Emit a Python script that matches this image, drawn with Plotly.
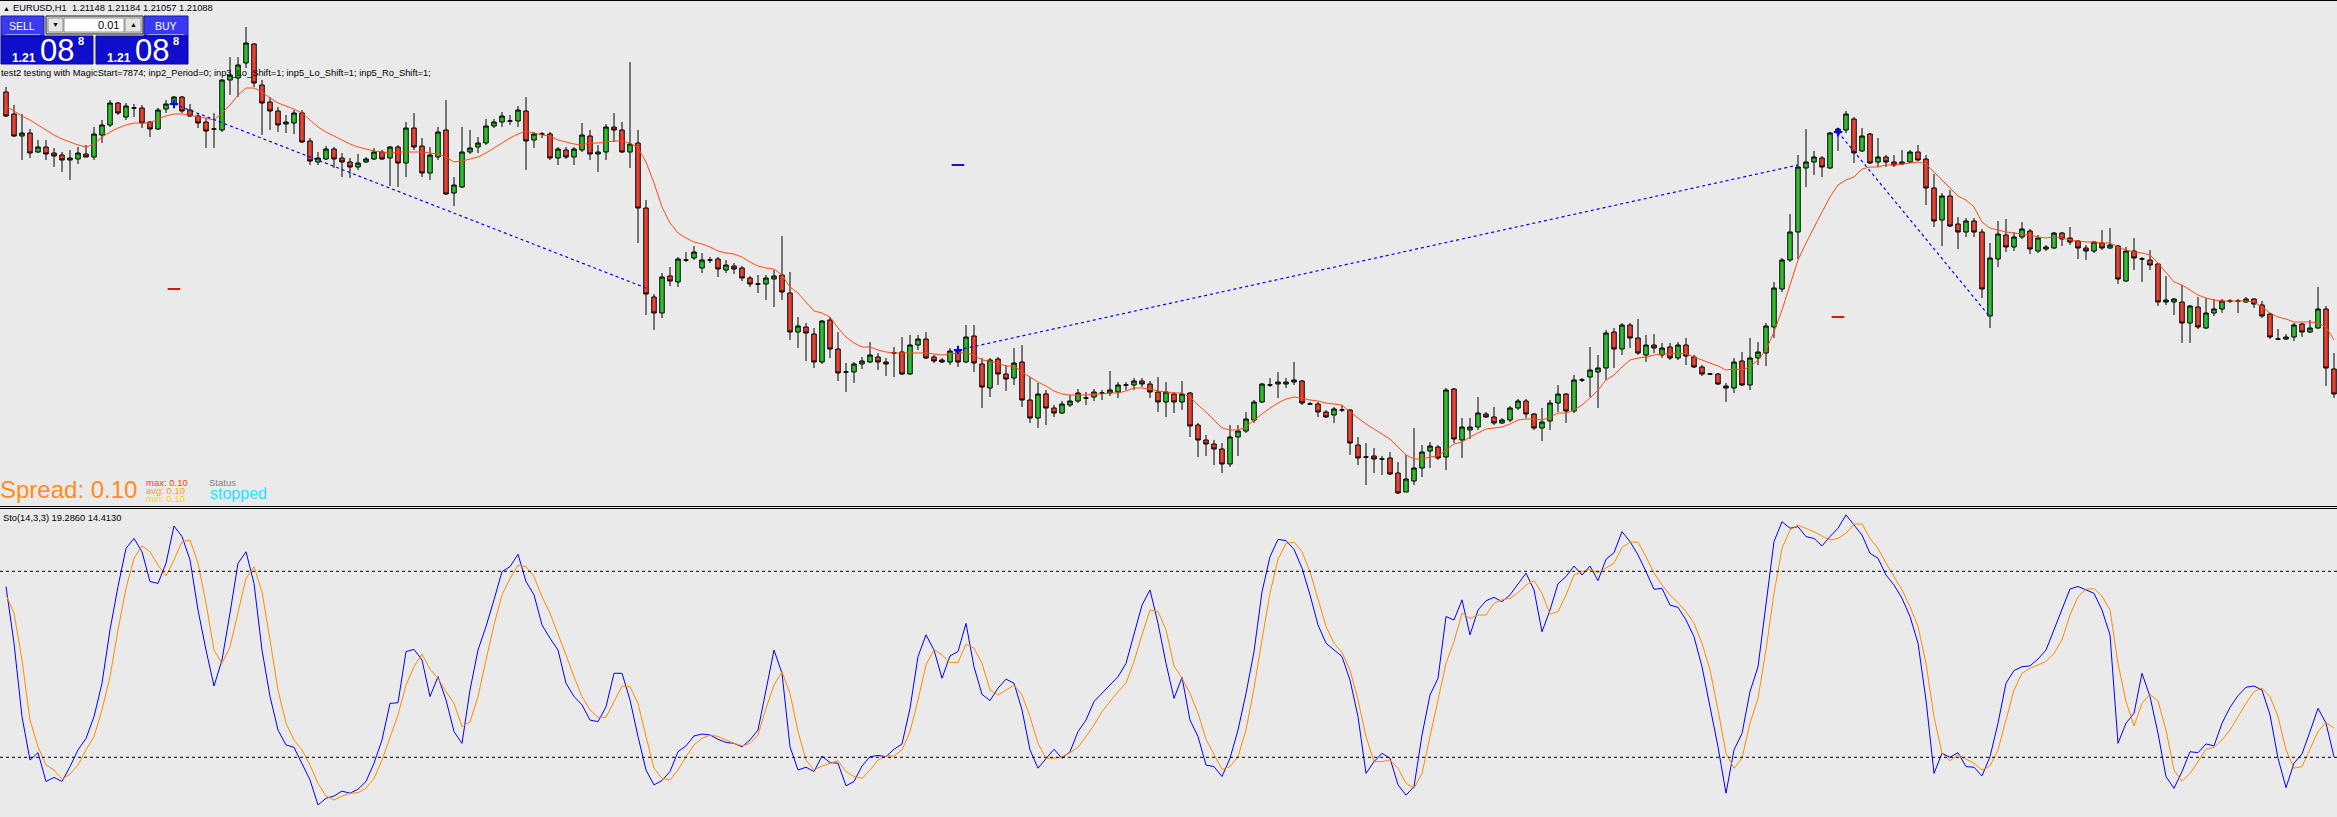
import plotly.graph_objects as go

W, H = 2337, 817
BG = '#EAEAEA'
FONT = 'Liberation Sans, Arial, sans-serif'

# ---------------- data (EURUSD H1) ----------------
open_ = [1.21908,1.21886,1.21864,1.21867,1.21848,1.21853,1.21847,1.21845,1.21840,1.21841,
1.21846,1.21843,1.21865,1.21875,1.21897,1.21883,1.21892,1.21892,1.21878,1.21871,
1.21891,1.21896,1.21903,1.21890,1.21884,1.21878,1.21871,1.21870,1.21920,1.21922,
1.21937,1.21956,1.21915,1.21898,1.21889,1.21876,1.21877,1.21887,1.21859,1.21838,
1.21841,1.21851,1.21842,1.21838,1.21833,1.21838,1.21841,1.21848,1.21842,1.21853,
1.21837,1.21872,1.21854,1.21827,1.21843,1.21870,1.21807,1.21813,1.21848,1.21853,
1.21857,1.21874,1.21878,1.21879,1.21879,1.21889,1.21860,1.21866,1.21866,1.21842,
1.21850,1.21843,1.21850,1.21864,1.21846,1.21848,1.21873,1.21870,1.21848,1.21857,
1.21792,1.21703,1.21687,1.21724,1.21718,1.21740,1.21742,1.21732,1.21740,1.21741,
1.21730,1.21734,1.21732,1.21722,1.21716,1.21716,1.21721,1.21725,1.21707,1.21668,
1.21673,1.21666,1.21638,1.21680,1.21651,1.21628,1.21628,1.21636,1.21638,1.21643,
1.21638,1.21647,1.21648,1.21626,1.21655,1.21661,1.21643,1.21640,1.21638,1.21649,
1.21638,1.21664,1.21636,1.21612,1.21641,1.21626,1.21622,1.21638,1.21600,1.21582,
1.21606,1.21592,1.21587,1.21595,1.21599,1.21602,1.21603,1.21607,1.21607,1.21608,
1.21615,1.21615,1.21619,1.21616,1.21608,1.21598,1.21606,1.21598,1.21607,1.21575,
1.21560,1.21556,1.21551,1.21536,1.21563,1.21569,1.21580,1.21598,1.21615,1.21618,
1.21616,1.21618,1.21619,1.21596,1.21596,1.21588,1.21585,1.21590,1.21590,1.21555,
1.21543,1.21544,1.21541,1.21542,1.21527,1.21508,1.21519,1.21532,1.21549,1.21553,
1.21543,1.21611,1.21560,1.21570,1.21573,1.21586,1.21583,1.21577,1.21580,1.21592,
1.21599,1.21586,1.21572,1.21579,1.21597,1.21606,1.21589,1.21620,1.21623,1.21628,
1.21632,1.21668,1.21651,1.21675,1.21662,1.21645,1.21655,1.21645,1.21653,1.21642,
1.21655,1.21643,1.21633,1.21626,1.21626,1.21614,1.21612,1.21639,1.21615,1.21642,
1.21647,1.21673,1.21711,1.21740,1.21768,1.21832,1.21838,1.21842,1.21832,1.21867,
1.21870,1.21881,1.21849,1.21866,1.21838,1.21843,1.21838,1.21836,1.21838,1.21848,
1.21841,1.21812,1.21780,1.21804,1.21776,1.21768,1.21779,1.21768,1.21684,1.21741,
1.21765,1.21753,1.21763,1.21769,1.21749,1.21751,1.21752,1.21767,1.21762,1.21759,
1.21752,1.21749,1.21757,1.21752,1.21754,1.21719,1.21749,1.21741,1.21740,1.21736,
1.21698,1.21698,1.21698,1.21677,1.21693,1.21672,1.21687,1.21691,1.21699,1.21699,
1.21698,1.21701,1.21695,1.21686,1.21661,1.21661,1.21663,1.21676,1.21668,1.21672,
1.21691,1.21631]

high_ = [1.21913,1.21895,1.21886,1.21871,1.21860,1.21860,1.21852,1.21848,1.21850,1.21853,
1.21855,1.21873,1.21880,1.21900,1.21898,1.21897,1.21896,1.21895,1.21879,1.21892,
1.21900,1.21904,1.21904,1.21896,1.21887,1.21882,1.21887,1.21921,1.21943,1.21943,
1.21973,1.21957,1.21920,1.21903,1.21893,1.21885,1.21890,1.21890,1.21862,1.21848,
1.21854,1.21853,1.21847,1.21842,1.21846,1.21843,1.21852,1.21850,1.21854,1.21855,
1.21878,1.21887,1.21862,1.21853,1.21873,1.21900,1.21823,1.21873,1.21870,1.21863,
1.21881,1.21881,1.21888,1.21885,1.21894,1.21903,1.21868,1.21868,1.21868,1.21853,
1.21853,1.21853,1.21877,1.21870,1.21855,1.21876,1.21887,1.21878,1.21938,1.21870,
1.21800,1.21706,1.21727,1.21733,1.21743,1.21748,1.21754,1.21747,1.21743,1.21743,
1.21740,1.21737,1.21734,1.21724,1.21725,1.21725,1.21730,1.21764,1.21728,1.21683,
1.21677,1.21672,1.21680,1.21683,1.21668,1.21637,1.21638,1.21643,1.21658,1.21647,
1.21642,1.21653,1.21663,1.21665,1.21665,1.21668,1.21645,1.21642,1.21652,1.21653,
1.21675,1.21675,1.21642,1.21642,1.21643,1.21635,1.21652,1.21655,1.21623,1.21617,
1.21610,1.21595,1.21599,1.21605,1.21611,1.21608,1.21611,1.21610,1.21629,1.21618,
1.21618,1.21622,1.21622,1.21619,1.21623,1.21618,1.21608,1.21619,1.21608,1.21577,
1.21565,1.21560,1.21557,1.21575,1.21575,1.21588,1.21600,1.21617,1.21622,1.21628,
1.21622,1.21638,1.21620,1.21598,1.21598,1.21590,1.21593,1.21595,1.21591,1.21563,
1.21557,1.21552,1.21544,1.21548,1.21538,1.21545,1.21572,1.21555,1.21558,1.21555,
1.21612,1.21612,1.21582,1.21582,1.21603,1.21588,1.21593,1.21582,1.21594,1.21601,
1.21601,1.21587,1.21592,1.21600,1.21615,1.21607,1.21625,1.21622,1.21653,1.21645,
1.21670,1.21672,1.21677,1.21677,1.21681,1.21665,1.21666,1.21657,1.21657,1.21658,
1.21662,1.21645,1.21635,1.21627,1.21627,1.21617,1.21642,1.21648,1.21662,1.21658,
1.21677,1.21718,1.21742,1.21786,1.21845,1.21871,1.21849,1.21844,1.21868,1.21872,
1.21889,1.21883,1.21872,1.21867,1.21862,1.21845,1.21845,1.21850,1.21850,1.21855,
1.21845,1.21826,1.21807,1.21810,1.21783,1.21782,1.21782,1.21771,1.21757,1.21779,
1.21781,1.21768,1.21778,1.21771,1.21765,1.21755,1.21768,1.21768,1.21773,1.21760,
1.21755,1.21759,1.21770,1.21772,1.21755,1.21753,1.21762,1.21743,1.21750,1.21737,
1.21724,1.21702,1.21715,1.21695,1.21703,1.21702,1.21701,1.21701,1.21701,1.21701,
1.21703,1.21702,1.21699,1.21687,1.21671,1.21666,1.21677,1.21677,1.21680,1.21713,
1.21694,1.21647]

low_ = [1.21883,1.21863,1.21840,1.21842,1.21847,1.21840,1.21833,1.21828,1.21820,1.21836,
1.21843,1.21840,1.21857,1.21873,1.21885,1.21880,1.21883,1.21872,1.21863,1.21870,
1.21887,1.21893,1.21887,1.21883,1.21872,1.21852,1.21852,1.21868,1.21905,1.21903,
1.21932,1.21913,1.21865,1.21870,1.21868,1.21867,1.21866,1.21857,1.21835,1.21835,
1.21840,1.21832,1.21823,1.21822,1.21830,1.21837,1.21840,1.21840,1.21814,1.21813,
1.21823,1.21850,1.21823,1.21820,1.21840,1.21805,1.21794,1.21812,1.21846,1.21847,
1.21855,1.21872,1.21873,1.21875,1.21873,1.21830,1.21852,1.21862,1.21840,1.21835,
1.21841,1.21835,1.21848,1.21840,1.21828,1.21840,1.21858,1.21847,1.21832,1.21757,
1.21685,1.21670,1.21682,1.21714,1.21713,1.21738,1.21740,1.21727,1.21737,1.21723,
1.21727,1.21726,1.21719,1.21713,1.21707,1.21700,1.21693,1.21700,1.21660,1.21652,
1.21639,1.21632,1.21636,1.21642,1.21619,1.21608,1.21617,1.21631,1.21637,1.21630,
1.21624,1.21623,1.21625,1.21625,1.21650,1.21641,1.21637,1.21637,1.21635,1.21633,
1.21637,1.21628,1.21592,1.21603,1.21615,1.21609,1.21615,1.21593,1.21577,1.21572,
1.21575,1.21583,1.21586,1.21593,1.21597,1.21595,1.21599,1.21600,1.21604,1.21602,
1.21610,1.21610,1.21613,1.21602,1.21588,1.21583,1.21587,1.21590,1.21563,1.21543,
1.21544,1.21535,1.21527,1.21533,1.21544,1.21567,1.21577,1.21597,1.21613,1.21602,
1.21612,1.21615,1.21595,1.21595,1.21583,1.21582,1.21577,1.21588,1.21545,1.21535,
1.21515,1.21527,1.21525,1.21525,1.21506,1.21508,1.21515,1.21523,1.21532,1.21540,
1.21530,1.21557,1.21542,1.21561,1.21570,1.21582,1.21575,1.21576,1.21578,1.21590,
1.21582,1.21570,1.21559,1.21570,1.21588,1.21577,1.21587,1.21618,1.21603,1.21592,
1.21620,1.21632,1.21645,1.21652,1.21645,1.21638,1.21647,1.21642,1.21640,1.21640,
1.21635,1.21632,1.21624,1.21625,1.21615,1.21598,1.21607,1.21614,1.21610,1.21635,
1.21634,1.21662,1.21708,1.21738,1.21741,1.21813,1.21825,1.21823,1.21831,1.21849,
1.21867,1.21837,1.21848,1.21836,1.21833,1.21833,1.21833,1.21835,1.21837,1.21839,
1.21795,1.21773,1.21754,1.21773,1.21751,1.21763,1.21763,1.21702,1.21672,1.21733,
1.21748,1.21749,1.21761,1.21746,1.21747,1.21749,1.21751,1.21754,1.21755,1.21741,
1.21740,1.21747,1.21750,1.21751,1.21716,1.21718,1.21730,1.21718,1.21730,1.21694,
1.21695,1.21685,1.21657,1.21657,1.21671,1.21671,1.21684,1.21687,1.21697,1.21687,
1.21697,1.21692,1.21682,1.21661,1.21660,1.21660,1.21659,1.21663,1.21667,1.21671,
1.21614,1.21602]

close_ = [1.21884,1.21864,1.21867,1.21847,1.21853,1.21846,1.21844,1.21840,1.21842,1.21847,
1.21843,1.21866,1.21875,1.21897,1.21887,1.21894,1.21892,1.21877,1.21871,1.21890,
1.21896,1.21903,1.21889,1.21884,1.21877,1.21869,1.21871,1.21920,1.21925,1.21935,
1.21957,1.21917,1.21897,1.21889,1.21875,1.21878,1.21887,1.21858,1.21839,1.21842,
1.21851,1.21841,1.21838,1.21833,1.21837,1.21841,1.21848,1.21841,1.21853,1.21837,
1.21872,1.21853,1.21827,1.21845,1.21868,1.21806,1.21815,1.21848,1.21852,1.21857,
1.21874,1.21878,1.21884,1.21879,1.21890,1.21859,1.21866,1.21866,1.21842,1.21851,
1.21843,1.21851,1.21865,1.21846,1.21848,1.21873,1.21870,1.21848,1.21856,1.21792,
1.21706,1.21687,1.21723,1.21719,1.21741,1.21740,1.21748,1.21740,1.21740,1.21731,
1.21735,1.21731,1.21722,1.21716,1.21716,1.21722,1.21724,1.21708,1.21668,1.21674,
1.21667,1.21638,1.21679,1.21651,1.21627,1.21628,1.21636,1.21639,1.21645,1.21638,
1.21636,1.21647,1.21626,1.21655,1.21661,1.21642,1.21639,1.21638,1.21649,1.21638,
1.21663,1.21637,1.21613,1.21640,1.21626,1.21621,1.21637,1.21600,1.21582,1.21606,
1.21592,1.21587,1.21596,1.21599,1.21607,1.21602,1.21608,1.21607,1.21610,1.21615,
1.21615,1.21619,1.21616,1.21608,1.21598,1.21608,1.21598,1.21606,1.21574,1.21560,
1.21556,1.21551,1.21536,1.21563,1.21569,1.21581,1.21598,1.21616,1.21615,1.21616,
1.21618,1.21620,1.21597,1.21596,1.21588,1.21583,1.21591,1.21590,1.21557,1.21542,
1.21543,1.21541,1.21541,1.21526,1.21507,1.21521,1.21532,1.21548,1.21554,1.21542,
1.21610,1.21561,1.21573,1.21573,1.21587,1.21583,1.21577,1.21580,1.21592,1.21599,
1.21586,1.21572,1.21578,1.21597,1.21606,1.21589,1.21620,1.21620,1.21630,1.21632,
1.21667,1.21651,1.21675,1.21662,1.21647,1.21655,1.21652,1.21652,1.21642,1.21655,
1.21644,1.21633,1.21626,1.21626,1.21616,1.21612,1.21638,1.21615,1.21642,1.21648,
1.21674,1.21712,1.21740,1.21768,1.21833,1.21838,1.21843,1.21833,1.21867,1.21871,
1.21886,1.21847,1.21864,1.21837,1.21843,1.21838,1.21835,1.21838,1.21848,1.21840,
1.21812,1.21779,1.21804,1.21774,1.21768,1.21779,1.21768,1.21711,1.21742,1.21766,
1.21753,1.21763,1.21771,1.21751,1.21762,1.21753,1.21767,1.21761,1.21758,1.21752,
1.21749,1.21758,1.21752,1.21755,1.21721,1.21749,1.21742,1.21741,1.21735,1.21698,
1.21700,1.21701,1.21677,1.21694,1.21673,1.21687,1.21691,1.21699,1.21699,1.21699,
1.21701,1.21696,1.21684,1.21663,1.21661,1.21663,1.21675,1.21668,1.21672,1.21691,
1.21632,1.21606]

ma_ = [1.21894,1.21889,1.21884,1.21880,1.21875,1.21870,1.21865,1.21861,1.21858,1.21855,
1.21853,1.21856,1.21863,1.21868,1.21872,1.21875,1.21877,1.21877,1.21877,1.21881,
1.21884,1.21886,1.21886,1.21885,1.21883,1.21882,1.21880,1.21887,1.21895,1.21905,
1.21912,1.21912,1.21908,1.21902,1.21897,1.21894,1.21891,1.21887,1.21880,1.21873,
1.21868,1.21864,1.21860,1.21856,1.21853,1.21851,1.21849,1.21848,1.21847,1.21848,
1.21848,1.21848,1.21848,1.21847,1.21846,1.21843,1.21838,1.21839,1.21841,1.21843,
1.21847,1.21852,1.21857,1.21862,1.21866,1.21869,1.21867,1.21865,1.21864,1.21860,
1.21858,1.21856,1.21855,1.21857,1.21857,1.21858,1.21859,1.21859,1.21857,1.21852,
1.21838,1.21817,1.21793,1.21777,1.21767,1.21762,1.21758,1.21756,1.21753,1.21749,
1.21747,1.21746,1.21743,1.21738,1.21734,1.21732,1.21731,1.21725,1.21713,1.21707,
1.21698,1.21689,1.21687,1.21683,1.21672,1.21663,1.21657,1.21653,1.21653,1.21650,
1.21648,1.21647,1.21647,1.21647,1.21647,1.21647,1.21646,1.21645,1.21646,1.21647,
1.21647,1.21645,1.21640,1.21639,1.21637,1.21634,1.21634,1.21628,1.21623,1.21618,
1.21614,1.21609,1.21606,1.21605,1.21605,1.21605,1.21606,1.21606,1.21607,1.21607,
1.21609,1.21612,1.21612,1.21611,1.21609,1.21608,1.21607,1.21607,1.21603,1.21595,
1.21588,1.21580,1.21572,1.21570,1.21570,1.21573,1.21580,1.21586,1.21592,1.21597,
1.21601,1.21603,1.21602,1.21600,1.21599,1.21597,1.21596,1.21595,1.21588,1.21582,
1.21576,1.21571,1.21566,1.21561,1.21553,1.21545,1.21541,1.21541,1.21543,1.21544,
1.21550,1.21556,1.21558,1.21563,1.21567,1.21571,1.21572,1.21573,1.21576,1.21580,
1.21581,1.21581,1.21580,1.21583,1.21587,1.21587,1.21590,1.21595,1.21602,1.21610,
1.21620,1.21625,1.21633,1.21640,1.21642,1.21643,1.21645,1.21646,1.21646,1.21647,
1.21646,1.21643,1.21640,1.21637,1.21634,1.21630,1.21631,1.21630,1.21633,1.21640,
1.21650,1.21668,1.21690,1.21715,1.21740,1.21757,1.21773,1.21788,1.21803,1.21815,
1.21820,1.21823,1.21831,1.21833,1.21833,1.21835,1.21835,1.21836,1.21837,1.21838,
1.21836,1.21828,1.21820,1.21812,1.21804,1.21800,1.21793,1.21778,1.21772,1.21770,
1.21768,1.21767,1.21766,1.21765,1.21763,1.21762,1.21763,1.21762,1.21760,1.21759,
1.21758,1.21758,1.21757,1.21757,1.21753,1.21750,1.21748,1.21747,1.21745,1.21737,
1.21727,1.21718,1.21715,1.21710,1.21705,1.21702,1.21700,1.21699,1.21699,1.21699,
1.21699,1.21698,1.21693,1.21687,1.21683,1.21681,1.21678,1.21678,1.21678,1.21677,
1.21673,1.21660]

sto_main = [75.1,56.8,33.1,19.1,21.5,12.2,13.5,12.2,17.0,22.4,
26.1,33.1,43.9,61.1,75.1,87.4,90.6,86.3,76.7,76.1,
82.6,94.6,91.2,83.7,67.5,54.6,43.0,51.4,66.5,82.6,
86.3,76.1,54.6,39.6,28.8,24.0,23.2,18.1,12.7,4.6,
6.8,7.5,9.1,8.4,9.7,12.2,18.1,25.6,37.4,37.6,
54.1,54.8,51.4,39.6,46.0,38.5,28.3,24.5,41.7,54.6,
62.2,70.8,79.9,81.5,85.5,76.7,72.4,62.7,58.4,54.6,
43.9,39.6,36.9,32.0,31.5,36.3,47.1,47.1,38.5,26.7,
15.9,11.1,12.5,15.4,21.8,23.7,26.9,27.5,27.2,25.8,
24.8,24.5,23.4,25.6,28.8,41.7,54.6,
47.1,23.4,15.9,16.8,15.4,20.4,18.3,18.1,10.8,12.2,
17.2,20.2,20.6,20.2,22.6,24.3,35.8,52.5,59.5,54.6,
45.5,52.7,54.1,63.2,49.2,40.3,38.3,42.3,45.2,43.9,
35.3,22.4,16.5,19.7,22.6,19.7,21.8,28.3,32.0,38.0,
40.6,43.3,46.0,50.3,59.5,69.1,74.0,63.2,50.3,39.0,
45.8,32.0,26.7,17.5,17.0,13.8,19.7,28.8,40.6,54.1,
73.4,84.7,90.3,89.9,87.1,81.0,72.4,62.7,56.8,54.6,
52.5,44.9,33.1,14.8,18.6,21.3,19.7,11.1,7.8,10.5,
27.2,40.1,45.5,65.4,64.3,70.8,59.5,67.5,70.5,71.6,
70.2,72.4,76.1,79.4,74.0,60.5,67.5,
76.0,78.3,81.7,78.8,81.7,77.0,83.9,86.0,92.8,89.6,
85.3,79.9,74.2,74.5,69.1,68.4,64.3,58.9,49.2,36.3,
23.4,8.4,22.4,27.7,41.2,49.2,70.2,89.6,96.0,93.9,
94.4,91.2,90.6,88.2,91.2,93.9,98.2,94.9,91.7,85.8,
84.2,78.8,75.6,71.3,65.4,56.8,38.5,14.8,21.3,20.0,
21.5,17.0,16.8,14.0,20.2,31.0,43.9,48.0,49.2,49.5,
51.7,54.6,61.1,67.5,74.3,75.1,74.0,72.9,67.5,59.5,
24.5,31.0,34.2,47.1,39.6,27.7,13.8,10.0,15.4,21.8,
21.5,24.3,23.7,31.0,36.1,39.9,42.6,43.0,41.7,33.7,
19.7,10.2,18.1,21.1,28.3,35.8,31.0,20.2]

sto_signal = [72.4,66.5,51.4,32.0,23.4,17.5,15.9,12.9,14.6,17.5,
22.4,26.7,35.3,46.0,61.1,74.5,84.2,88.2,86.3,82.0,
78.5,83.7,89.6,90.1,82.6,69.7,54.6,50.3,55.7,66.5,
77.7,81.5,73.4,57.9,41.7,31.0,25.6,22.4,17.5,11.6,
7.5,6.2,7.5,8.4,8.6,10.0,13.2,19.1,26.7,33.7,
43.3,49.2,53.3,48.4,45.5,41.2,37.4,29.9,31.4,39.6,
51.4,62.7,72.4,77.7,82.0,81.5,78.3,71.8,66.5,60.0,
53.0,46.0,39.6,35.3,32.9,32.9,38.0,43.0,42.8,37.4,
26.7,16.5,13.2,12.7,15.9,20.2,24.0,26.1,27.2,26.7,
25.6,24.5,23.7,24.5,27.2,35.8,43.3,
47.6,40.6,28.3,19.1,15.9,17.2,18.1,18.9,15.4,13.8,
13.2,15.9,19.1,20.4,20.4,22.4,28.3,38.5,49.8,54.8,
53.0,50.6,50.6,56.5,55.2,50.3,41.7,40.1,41.7,43.3,
40.1,33.1,24.5,19.7,19.7,20.2,21.5,23.2,26.7,30.4,
34.7,38.0,41.2,43.9,50.9,59.5,67.5,67.0,61.1,49.5,
45.5,40.6,34.2,25.8,20.8,16.1,17.0,20.2,28.8,42.3,
57.9,72.9,83.9,89.0,89.4,86.3,79.9,70.8,62.2,56.8,
53.8,48.2,38.5,26.7,18.6,18.6,19.1,16.5,11.6,10.0,
14.8,26.7,38.5,50.3,57.3,66.5,64.8,65.9,65.9,69.7,
70.8,71.3,73.1,75.6,77.0,72.9,66.2,
67.0,72.4,78.8,79.9,80.6,79.6,81.0,82.6,87.7,89.4,
89.4,84.7,79.4,75.6,72.4,69.9,67.0,63.2,56.8,48.2,
35.3,21.3,16.5,19.7,31.0,39.0,54.6,72.9,87.4,93.3,
94.9,93.9,92.8,91.4,90.1,90.6,92.3,95.2,95.3,90.6,
87.4,82.6,78.3,74.0,68.6,62.2,50.3,33.1,21.3,18.9,
20.8,19.4,18.1,15.9,17.2,22.4,32.0,41.7,47.1,48.7,
49.8,50.9,53.5,57.9,65.9,71.8,74.2,74.4,72.0,67.5,
50.3,38.0,30.1,37.4,40.3,38.2,28.8,15.9,12.2,14.8,
18.6,22.6,23.2,25.6,28.8,33.1,37.4,41.2,42.3,39.6,
33.1,22.4,16.5,17.0,22.4,28.3,31.2,29.4]

sto_levels = [80, 20]

# EA objects: dotted projection lines (bar index, price)
zz_x = [[21, 80], [119, 224], [229, 248]]
zz_y = [[1.21896, 1.21712], [1.21650, 1.21835], [1.21868, 1.21683]]
tgt_x = [21, 119, 229]
tgt_y = [1.21711, 1.21835, 1.21683]
tgt_col = ['#E81010', '#1010F0', '#E81010']

bars = list(range(len(close_)))

# ---------------- figure ----------------
fig = go.Figure()

fig.add_trace(go.Candlestick(
    x=bars, open=open_, high=high_, low=low_, close=close_,
    increasing=dict(line=dict(color='black', width=1), fillcolor='#2FBF2F'),
    decreasing=dict(line=dict(color='black', width=1), fillcolor='#EE4433'),
    whiskerwidth=0, hoverinfo='skip', xaxis='x', yaxis='y'))

fig.add_trace(go.Scatter(x=bars, y=ma_, mode='lines', hoverinfo='skip',
                         line=dict(color='#FF4A14', width=1), xaxis='x', yaxis='y'))

for xs, ys in zip(zz_x, zz_y):
    fig.add_trace(go.Scatter(x=xs, y=ys, mode='lines', hoverinfo='skip',
                             line=dict(color='#0000FF', width=1.2, dash='3px,3px'),
                             xaxis='x', yaxis='y'))

fig.add_trace(go.Scatter(x=[p[0] for p in zz_x], y=[p[0] for p in zz_y], mode='markers',
                         hoverinfo='skip', xaxis='x', yaxis='y',
                         marker=dict(symbol='cross-thin', size=6, line=dict(color='#0000FF', width=2))))
fig.add_trace(go.Scatter(x=tgt_x, y=tgt_y, mode='markers', hoverinfo='skip', xaxis='x', yaxis='y',
                         marker=dict(symbol='line-ew', size=9, color=tgt_col,
                                     line=dict(color=tgt_col, width=2))))

fig.add_trace(go.Scatter(x=bars, y=sto_main, mode='lines', hoverinfo='skip',
                         line=dict(color='#0000FF', width=1), xaxis='x2', yaxis='y2'))
fig.add_trace(go.Scatter(x=bars, y=sto_signal, mode='lines', hoverinfo='skip',
                         line=dict(color='#FF8C00', width=1), xaxis='x2', yaxis='y2'))

xr = [-0.75, 291.375]
fig.update_layout(
    width=W, height=H, margin=dict(l=0, r=0, t=0, b=0),
    paper_bgcolor=BG, plot_bgcolor=BG, showlegend=False,
    font=dict(family=FONT),
    boxgap=0.2, boxgroupgap=0.3,
    xaxis=dict(domain=[0, 1], range=xr, visible=False, rangeslider=dict(visible=False),
               anchor='y', fixedrange=True),
    yaxis=dict(domain=[1 - 505 / H, 1], range=[1.21495, 1.22000], visible=False, anchor='x'),
    xaxis2=dict(domain=[0, 1], range=xr, visible=False, anchor='y2'),
    yaxis2=dict(domain=[0, 1 - 509 / H], range=[0.74, 100.1], visible=False, anchor='x2'),
)

def px(x):
    return x / W

def py(y):
    return 1 - y / H

shapes = []
# frame / separator lines
for yy in [0.5, 506.5, 508.5]:
    shapes.append(dict(type='line', xref='paper', yref='paper', x0=0, x1=1, y0=py(yy), y1=py(yy),
                       line=dict(color='black', width=1)))
for lv in sto_levels:
    shapes.append(dict(type='line', xref='paper', yref='y2', x0=0, x1=1, y0=lv, y1=lv,
                       line=dict(color='black', width=1, dash='3px,3px')))

def rect(x0, y0, x1, y1, fill, line='rgba(0,0,0,0)', lw=1):
    return dict(type='rect', xref='paper', yref='paper', x0=px(x0), x1=px(x1), y0=py(y1), y1=py(y0),
                fillcolor=fill, line=dict(color=line, width=lw), layer='above')

# one-click trading panel
shapes += [
    rect(1, 16, 44, 36, '#3A3AF2', '#1A1AA0'),
    rect(1, 36, 93, 64, '#0E0ECC', '#0A0A90'),
    rect(144, 16, 188, 36, '#3A3AF2', '#1A1AA0'),
    rect(96, 36, 188, 64, '#0E0ECC', '#0A0A90'),
    rect(46, 16, 143, 34, '#D8D8D8', '#202020'),
    rect(48, 18, 63, 32, '#E6E6E6', '#909090'),
    rect(64, 18, 124, 32, '#FFFFFF', '#909090'),
    rect(125, 18, 141, 32, '#E6E6E6', '#909090'),
]
for xa, xb in [(5, 40), (148, 184)]:
    shapes.append(dict(type='line', xref='paper', yref='paper', x0=px(xa), x1=px(xb),
                       y0=py(34.5), y1=py(34.5), line=dict(color='#9A9AFF', width=1), layer='above'))
fig.update_layout(shapes=shapes)

def ann(x, y, text, size, color='black', anchor='left'):
    return dict(xref='paper', yref='paper', x=px(x), y=py(y), text=text, showarrow=False,
                xanchor=anchor, yanchor='middle', font=dict(size=size, color=color, family=FONT))

anns = [
    ann(1, 8, '▲', 7),
    ann(11, 8, 'EURUSD,H1  1.21148 1.21184 1.21057 1.21088', 9.3),
    ann(22, 26, 'SELL', 10.5, 'white', 'center'),
    ann(166, 26, 'BUY', 10.5, 'white', 'center'),
    ann(55.5, 25, '▼', 7, 'black', 'center'),
    ann(133, 25, '▲', 7, 'black', 'center'),
    ann(121, 25.5, '0.01', 11, 'black', 'right'),
    ann(24, 58, '<b>1.21</b>', 12, 'white', 'center'),
    ann(57, 51, '08', 31, 'white', 'center'),
    ann(81, 41, '<b>8</b>', 11, 'white', 'center'),
    ann(119, 58, '<b>1.21</b>', 12, 'white', 'center'),
    ann(152, 51, '08', 31, 'white', 'center'),
    ann(176, 41, '<b>8</b>', 11, 'white', 'center'),
    ann(-1, 73, 'test2 testing with MagicStart=7874; inp2_Period=0; inp3_Lo_Shift=1; '
               'inp5_Lo_Shift=1; inp5_Ro_Shift=1;', 9.3),
    ann(-2, 489, 'Spread: 0.10', 24, '#FF8C1A'),
    ann(144, 482.7, 'max: 0.10', 9.5, '#FF4010'),
    ann(144, 490, 'avg: 0.10', 9.5, '#FF9A10'),
    ann(144, 498, 'min: 0.10', 9.5, '#FFD400'),
    ann(207, 482.7, 'Status', 9.5, '#808080'),
    ann(208, 494, 'stopped', 16, '#22E4FF'),
    ann(1, 517.5, 'Sto(14,3,3) 19.2860 14.4130', 9.3),
]
fig.update_layout(annotations=anns)

fig.write_html('out.html')
